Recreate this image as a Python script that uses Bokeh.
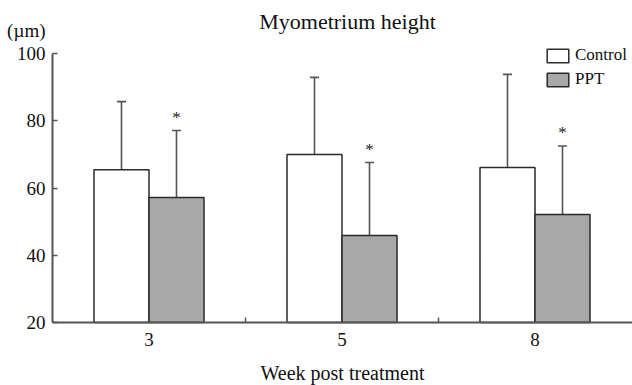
from bokeh.plotting import figure
from bokeh.models import ColumnDataSource, Whisker, TeeHead, FixedTicker, Legend, LegendItem, Label
from bokeh.transform import dodge
from bokeh.core.properties import value
from bokeh.embed import file_html
from bokeh.resources import INLINE

weeks = ["3", "5", "8"]
control_mean = [65.4, 70.0, 66.1]
control_sd = [20.3, 22.9, 27.7]
ppt_mean = [57.2, 45.9, 52.1]
ppt_sd = [19.9, 21.7, 20.4]
sig = ["*", "*", "*"]
y_ticks = [20, 40, 60, 80, 100]

FONT = "Liberation Serif"
pos = list(range(len(weeks)))
src = ColumnDataSource(dict(
    x=pos,
    cm=control_mean,
    cu=[m + s for m, s in zip(control_mean, control_sd)],
    pm=ppt_mean,
    pu=[m + s for m, s in zip(ppt_mean, ppt_sd)],
    sig=sig,
))

# layout: the frame fills the whole canvas, axes are pinned with fixed_location
WIDTH, HEIGHT = 632, 385
PX = 193.0            # pixels per category step
YPX = 269.0 / (y_ticks[-1] - y_ticks[0])   # pixels per y unit
X0 = -148.5 / PX
Y_TOP = y_ticks[-1] + 53 / YPX
x_start, x_end = X0, X0 + WIDTH / PX
y_end, y_start = Y_TOP, Y_TOP - HEIGHT / YPX


def sx(px):
    return X0 + px / PX


def sy(py):
    return Y_TOP - py / YPX


W = 0.285
p = figure(width=WIDTH, height=HEIGHT, output_backend="svg", toolbar_location=None, title=None,
           x_range=(x_start, x_end), y_range=(y_start, y_end),
           min_border_left=0, min_border_right=0, min_border_top=0, min_border_bottom=0)
p.outline_line_color = None
p.grid.grid_line_color = None

rc = p.vbar(x=dodge("x", -W / 2, range=p.x_range), top="cm", bottom=y_ticks[0], width=W, source=src,
            fill_color="white", line_color="#2a2a2a", line_width=1.5)
rp = p.vbar(x=dodge("x", W / 2, range=p.x_range), top="pm", bottom=y_ticks[0], width=W, source=src,
            fill_color="#a8a8a8", line_color="#2a2a2a", line_width=1.5)

for off, lo, up in [(-W / 2, "cm", "cu"), (W / 2, "pm", "pu")]:
    wk = Whisker(base=dodge("x", off, range=p.x_range), lower=lo, upper=up, source=src,
                 line_color="#555555", line_width=1.6,
                 upper_head=TeeHead(size=9, line_color="#555555", line_width=1.6),
                 lower_head=None, level="underlay")
    p.add_layout(wk)

p.text(x=dodge("x", W / 2, range=p.x_range), y="pu", text="sig", source=src,
       text_font=value(FONT), text_font_size="17px", text_align="center",
       text_baseline="middle", y_offset=-13, text_color="#222222")

# axes
y_axis_x = sx(52)
p.xaxis.fixed_location = y_ticks[0]
p.xaxis.bounds = (y_axis_x, x_end)
p.xaxis.ticker = FixedTicker(ticks=pos, minor_ticks=[i + 0.5 for i in pos[:-1]])
p.xaxis.major_label_overrides = {i: w for i, w in zip(pos, weeks)}
p.xaxis.major_tick_in = 0
p.xaxis.major_tick_out = 0
p.xaxis.minor_tick_in = 5
p.xaxis.minor_tick_out = 0
p.xaxis.minor_tick_line_color = "#555555"
p.xaxis.minor_tick_line_width = 1.5
p.xaxis.axis_label = "Week post treatment"
p.xaxis.axis_label_standoff = 13
p.xaxis.major_label_standoff = 10

p.yaxis.fixed_location = y_axis_x
p.yaxis.ticker = FixedTicker(ticks=y_ticks)
p.yaxis.bounds = (y_ticks[0], y_ticks[-1])
p.yaxis.major_tick_in = 5
p.yaxis.major_tick_out = 0
p.yaxis.minor_tick_line_color = None
p.yaxis.major_label_standoff = 7

for ax in (p.xaxis, p.yaxis):
    ax.axis_line_color = "#555555"
    ax.axis_line_width = 2
    ax.major_tick_line_color = "#555555"
    ax.major_tick_line_width = 1.5
    ax.major_label_text_font = FONT
    ax.major_label_text_font_size = "19px"
    ax.major_label_text_color = "#111111"
    ax.axis_label_text_font = FONT
    ax.axis_label_text_font_size = "20px"
    ax.axis_label_text_font_style = "normal"
    ax.axis_label_text_color = "#111111"

p.add_layout(Label(x=sx(347), y=sy(20.5), text="Myometrium height", text_align="center",
                   text_baseline="alphabetic", text_font=FONT, text_font_size="22px",
                   text_color="#111111"))
p.add_layout(Label(x=y_axis_x, x_offset=-7, y=sy(29.5), text="(µm)", text_align="right",
                   text_baseline="alphabetic", text_font=FONT, text_font_size="19px",
                   text_color="#111111"))

legend = Legend(items=[LegendItem(label="Control", renderers=[rc]),
                       LegendItem(label="PPT", renderers=[rp])],
                location=(544, 296), orientation="vertical",
                glyph_width=27, glyph_height=17, label_standoff=4, spacing=4,
                padding=0, margin=0, border_line_color=None, background_fill_alpha=0,
                label_text_font=FONT, label_text_font_size="17px", label_text_color="#111111")
p.add_layout(legend)

open("out.html", "w").write(file_html(p, INLINE))
